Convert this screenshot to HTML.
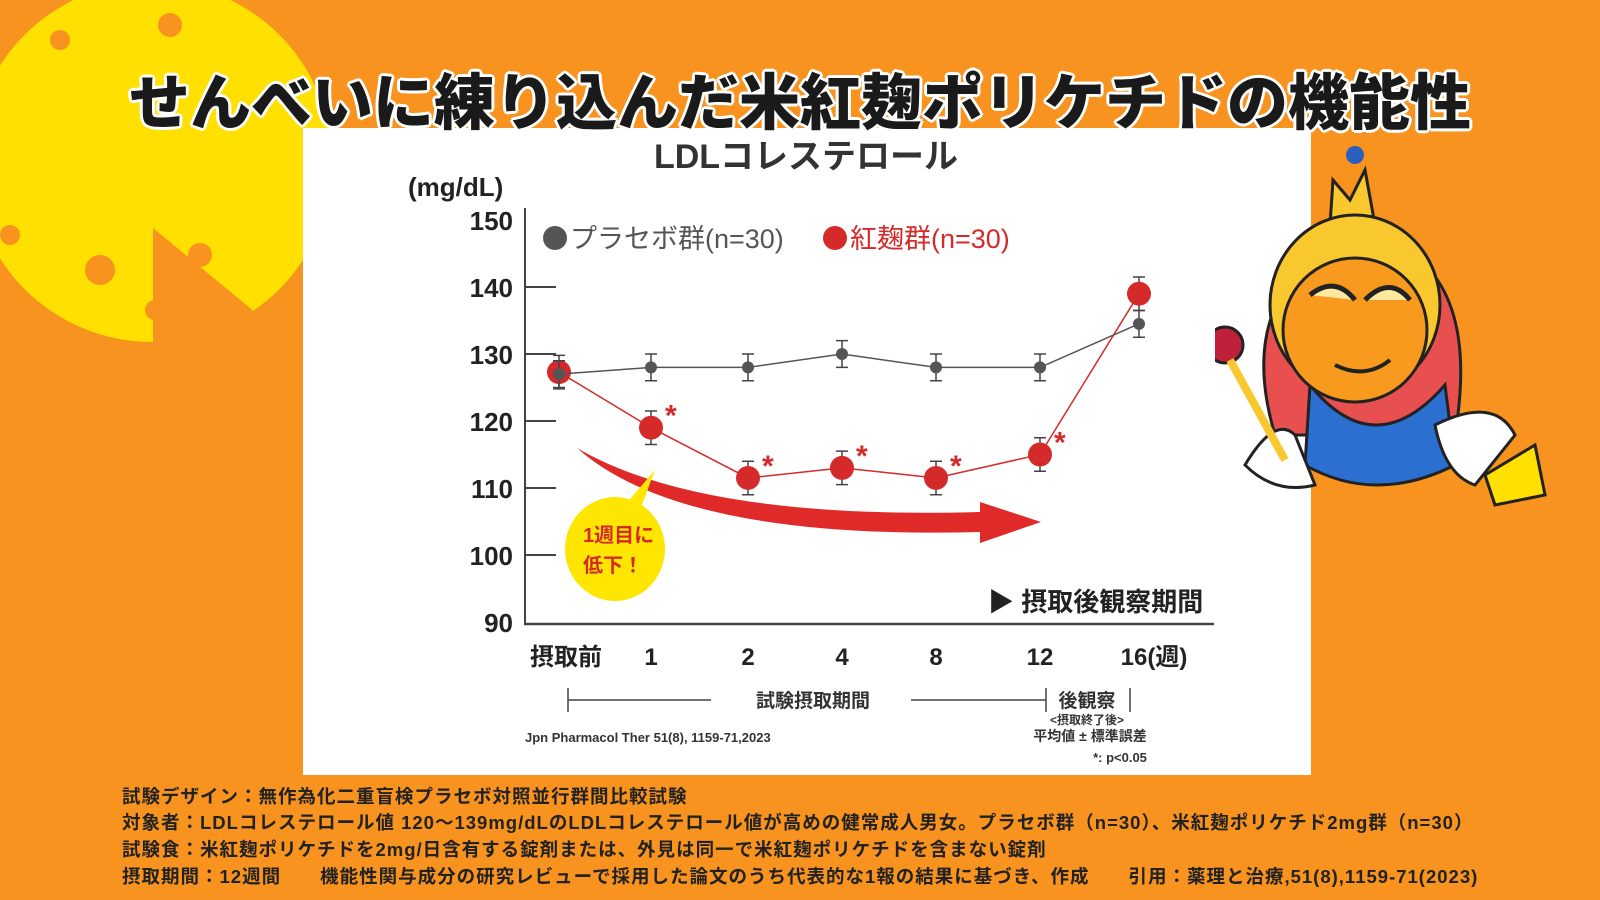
<!DOCTYPE html>
<html><head><meta charset="utf-8">
<style>
html,body{margin:0;padding:0}
body{width:1600px;height:900px;background:#F7931E;position:relative;overflow:hidden;font-family:"Liberation Sans","Noto Sans CJK JP",sans-serif}
.t{position:absolute;white-space:nowrap}
#title{left:0;width:1600px;top:53px;text-align:center;font-size:61px;font-weight:900;color:#1a1a1a;text-shadow:3px 0 #fff,-3px 0 #fff,0 3px #fff,0 -3px #fff,2px 2px #fff,-2px -2px #fff,2px -2px #fff,-2px 2px #fff;letter-spacing:0px}
#panel{position:absolute;left:303px;top:128px;width:1008px;height:647px;background:#fff}
.foot{position:absolute;left:122px;font-size:18.5px;font-weight:bold;color:#222;white-space:nowrap;letter-spacing:1px}
</style></head>
<body>
<svg style="position:absolute;left:0;top:0" width="340" height="345">
<circle cx="152" cy="162" r="180" fill="#FFE000"/>
<path d="M153,228 L153,360 L300,360 L250,308 Z" fill="#F7931E"/>
<circle cx="170" cy="25" r="12" fill="#F7931E"/><circle cx="60" cy="40" r="10" fill="#F7931E"/>
<circle cx="100" cy="270" r="15" fill="#F7931E"/><circle cx="10" cy="235" r="10" fill="#F7931E"/>
<circle cx="200" cy="255" r="12" fill="#F7931E"/><circle cx="155" cy="310" r="10" fill="#F7931E"/>
<circle cx="315" cy="245" r="10" fill="#F7931E"/>
</svg>
<div id="panel"></div>
<div id="title" class="t">せんべいに練り込んだ米紅麹ポリケチドの機能性</div>

<svg id="chart" style="position:absolute;left:0;top:0" width="1600" height="900" font-family="Liberation Sans, Noto Sans CJK JP, sans-serif"></svg>

<svg style="position:absolute;left:1215px;top:135px" width="360" height="390">
<path d="M115,90 L118,45 L135,65 L150,35 L160,90 Z" fill="#F9C72E" stroke="#222" stroke-width="3"/>
<circle cx="140" cy="20" r="9" fill="#2b5fbf"/>
<path d="M60,300 Q30,200 80,140 Q140,90 210,130 Q260,180 240,300 Z" fill="#E8504F" stroke="#222" stroke-width="3"/>
<path d="M95,250 Q160,330 230,250 L240,330 Q160,370 90,330 Z" fill="#2b6fd0" stroke="#222" stroke-width="3"/>
<ellipse cx="140" cy="170" rx="85" ry="90" fill="#F9C72E" stroke="#222" stroke-width="3"/>
<ellipse cx="140" cy="195" rx="72" ry="72" fill="#F79A1E" stroke="#222" stroke-width="3"/>
<path d="M30,330 Q60,280 80,300 L100,350 Q60,360 30,330 Z" fill="#fff" stroke="#222" stroke-width="3"/>
<path d="M220,290 Q280,260 300,300 L260,350 Q230,340 220,290 Z" fill="#fff" stroke="#222" stroke-width="3"/>
<circle cx="10" cy="210" r="18" fill="#c0213a" stroke="#222" stroke-width="3"/>
<line x1="15" y1="225" x2="70" y2="325" stroke="#F9C72E" stroke-width="8"/>
<path d="M270,340 L320,310 L330,360 L280,370 Z" fill="#FFE000" stroke="#222" stroke-width="3"/>
<path d="M95,160 Q120,140 140,165 M150,165 Q175,140 195,165" stroke="#222" stroke-width="5" fill="#FFE9A0"/>
<path d="M120,230 Q150,245 175,225" stroke="#222" stroke-width="4" fill="none"/>
</svg>

<div class="foot" style="top:783px">試験デザイン：無作為化二重盲検プラセボ対照並行群間比較試験</div>
<div class="foot" style="top:809px">対象者：LDLコレステロール値 120～139mg/dLのLDLコレステロール値が高めの健常成人男女。プラセボ群（n=30）、米紅麹ポリケチド2mg群（n=30）</div>
<div class="foot" style="top:836px">試験食：米紅麹ポリケチドを2mg/日含有する錠剤または、外見は同一で米紅麹ポリケチドを含まない錠剤</div>
<div class="foot" style="top:863px">摂取期間：12週間　　機能性関与成分の研究レビューで採用した論文のうち代表的な1報の結果に基づき、作成　　引用：薬理と治療,51(8),1159-71(2023)</div>

<script>
const categories = ["摂取前","1","2","4","8","12","16(週)"];
const placebo = [127, 128, 128, 130, 128, 128, 134.5];
const placeboErr = [2, 2, 2, 2, 2, 2, 2];
const koji = [127.3, 119, 111.5, 113, 111.5, 115, 139];
const kojiErr = [2.5, 2.5, 2.5, 2.5, 2.5, 2.5, 2.5];
const sig = [false, true, true, true, true, true, false];
const yTicks = [90, 100, 110, 120, 130, 140, 150];

const NS = "http://www.w3.org/2000/svg";
const svg = document.getElementById("chart");
const xPos = [559, 651, 748, 842, 936, 1040, 1139];
function x(i){ return xPos[i]; }
function y(v){ return 622 - (v - 90) * 6.7; }
function mk(tag, attrs, text){
  const e = document.createElementNS(NS, tag);
  for (const k in attrs) e.setAttribute(k, attrs[k]);
  if (text !== undefined) e.textContent = text;
  svg.appendChild(e);
  return e;
}
let e;
e = mk("text",{x:806,y:168,"text-anchor":"middle","font-size":34,"font-weight":"bold",fill:"#333"},"LDLコレステロール");


e = mk("text",{x:408,y:196,"font-size":26,"font-weight":"bold",fill:"#222"},"(mg/dL)");


e = mk("line",{x1:525,y1:208,x2:525,y2:624,stroke:"#444","stroke-width":2});


e = mk("line",{x1:524,y1:624,x2:1214,y2:624,stroke:"#444","stroke-width":2.5});


yTicks.forEach(v=>{
  e = mk("text",{x:513,y:y(v)+10,"text-anchor":"end","font-size":26,"font-weight":"bold",fill:"#222"},String(v));
  
  
  if (v>90 && v<150){
    e = mk("line",{x1:525,y1:y(v),x2:556,y2:y(v),stroke:"#444","stroke-width":2});
    
    
  }
});
categories.forEach((c,i)=>{
  let xx = x(i); if(i===0) xx=566; if(i===6) xx=1154;
  e = mk("text",{x:xx,y:665,"text-anchor":"middle","font-size":24,"font-weight":"bold",fill:"#222"},c);
  
  
});
e = mk("circle",{cx:555,cy:238,r:12,fill:"#555"});


e = mk("text",{x:570,y:248,"font-size":27,fill:"#555"},"プラセボ群(n=30)");


e = mk("circle",{cx:835,cy:238,r:12,fill:"#d52a2a"});


e = mk("text",{x:850,y:248,"font-size":27,fill:"#d52a2a"},"紅麹群(n=30)");


e = mk("path",{d:"M577,448 Q700,520 980,512 L980,502 L1041,522 L980,543 L980,532 Q680,540 577,448 Z",fill:"#e02a2a"});


e = mk("path",{d:"M640,510 L655,470 L625,505 Z",fill:"#FFE600"});


e = mk("ellipse",{cx:615,cy:549,rx:50,ry:52,fill:"#FFE600"});


e = mk("text",{x:583,y:542,"font-size":20,"font-weight":"bold",fill:"#d52a2a"},"1週目に");


e = mk("text",{x:583,y:572,"font-size":20,"font-weight":"bold",fill:"#d52a2a"},"低下！");


e = mk("text",{x:988,y:611,"font-size":26,"font-weight":"bold",fill:"#222"},"▶ 摂取後観察期間");


function series(vals, errs, color, r, name){
  let d = vals.map((v,i)=>(i?"L":"M")+x(i)+","+y(v)).join(" ");
  e = mk("path",{d:d,fill:"none",stroke:color,"stroke-width":1.5});
  
  
  vals.forEach((v,i)=>{
    const t=y(v+errs[i]), b=y(v-errs[i]);
    e = mk("path",{d:`M${x(i)},${t}L${x(i)},${b}M${x(i)-6},${t}L${x(i)+6},${t}M${x(i)-6},${b}L${x(i)+6},${b}`,stroke:"#444","stroke-width":1.5,fill:"none"});
    
    
  });
  vals.forEach((v,i)=>{
    e = mk("circle",{cx:x(i),cy:y(v),r:r,fill:color});
    
    
  });
}
series(koji, kojiErr, "#d52a2a", 12, "koji");
series(placebo, placeboErr, "#555", 6, "placebo");
koji.forEach((v,i)=>{
  if(!sig[i]) return;
  e = mk("text",{x:x(i)+14,y:y(v)-2,"font-size":30,"font-weight":"bold",fill:"#d52a2a"},"*");
  
  
});
e = mk("path",{d:"M568,688 L568,712 M568,700 L711,700 M911,700 L1046,700 M1046,688 L1046,712 M1130,688 L1130,712",stroke:"#444","stroke-width":1.5,fill:"none"});


e = mk("text",{x:813,y:707,"text-anchor":"middle","font-size":19,"font-weight":"bold",fill:"#333"},"試験摂取期間");


e = mk("text",{x:1087,y:707,"text-anchor":"middle","font-size":19,"font-weight":"bold",fill:"#333"},"後観察");


e = mk("text",{x:1087,y:724,"text-anchor":"middle","font-size":12,"font-weight":"bold",fill:"#333"},"<摂取終了後>");


e = mk("text",{x:1090,y:741,"text-anchor":"middle","font-size":14,"font-weight":"bold",fill:"#333"},"平均値 ± 標準誤差");


e = mk("text",{x:1120,y:762,"text-anchor":"middle","font-size":13,"font-weight":"bold",fill:"#333"},"*: p<0.05");


e = mk("text",{x:525,y:742,"font-size":13,"font-weight":"bold",fill:"#333"},"Jpn Pharmacol Ther 51(8), 1159-71,2023");


</script>
</body></html>
